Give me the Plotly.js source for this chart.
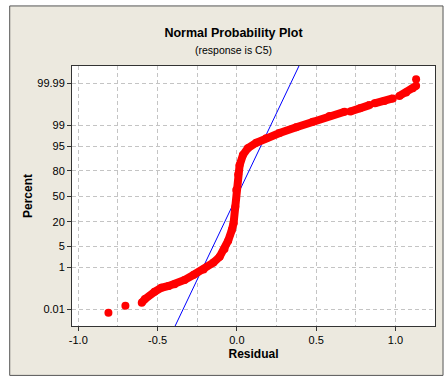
<!DOCTYPE html>
<html>
<head>
<meta charset="utf-8">
<script src="https://cdn.plot.ly/plotly-3.0.1.min.js"></script>
<style>html,body{margin:0;padding:0;background:#fff;}#chart{width:445px;height:377px;}</style>
</head>
<body>
<div id="chart"></div>
<script>
// ---- data ----
const residual = [-0.810,null,-0.703,null,-0.600,-0.580,-0.519,-0.477,-0.430,-0.393,-0.330,-0.272,-0.210,-0.148,-0.109,-0.078,-0.055,-0.032,-0.021,-0.010,-0.004,0.008,0.017,0.038,0.069,0.122,0.185,0.269,0.374,0.479,0.584,0.679,null,0.715,0.776,0.836,null,0.868,0.930,0.983,null,1.025,1.067,1.109,1.130,null,1.130];
const percent  = [0.0064,null,0.0159,null,0.0233,0.0362,0.0845,0.131,0.159,0.193,0.298,0.494,0.798,1.46,2.33,4.18,7.21,13.35,18.67,36.7,58.3,76.4,84.6,91.3,94.3,96.1,97.2,98.12,98.84,99.29,99.585,99.728,null,99.736,99.813,99.865,null,99.889,99.913,99.936,null,99.952,99.968,99.981,99.986,null,99.9941];
const fitMean = 0.0;
const fitStDev = 0.0913;
const yTickPercents = [0.01, 1, 5, 20, 50, 80, 95, 99, 99.99];
const yTickLabels = ["0.01","1","5","20","50","80","95","99","99.99"];
const xTickVals = [-1.0, -0.5, 0.0, 0.5, 1.0];
const xTickLabels = ["-1.0","-0.5","0.0","0.5","1.0"];
const xMinorGrid = [-0.75, -0.25, 0.25, 0.75];

// inverse standard normal CDF (Acklam) — normal probability scale
function norminv(p){
  const a=[-3.969683028665376e+01,2.209460984245205e+02,-2.759285104469687e+02,1.383577518672690e+02,-3.066479806614716e+01,2.506628277459239e+00];
  const b=[-5.447609879822406e+01,1.615858368580409e+02,-1.556989798598866e+02,6.680131188771972e+01,-1.328068155288572e+01];
  const c=[-7.784894002430293e-03,-3.223964580411365e-01,-2.400758277161838e+00,-2.549732539343734e+00,4.374664141464968e+00,2.938163982698783e+00];
  const d=[7.784695709041462e-03,3.224671290700398e-01,2.445134137142996e+00,3.754408661907416e+00];
  const pl=0.02425, ph=1-pl;
  let q,r;
  if(p<pl){q=Math.sqrt(-2*Math.log(p));return (((((c[0]*q+c[1])*q+c[2])*q+c[3])*q+c[4])*q+c[5])/((((d[0]*q+d[1])*q+d[2])*q+d[3])*q+1);}
  if(p<=ph){q=p-0.5;r=q*q;return (((((a[0]*r+a[1])*r+a[2])*r+a[3])*r+a[4])*r+a[5])*q/(((((b[0]*r+b[1])*r+b[2])*r+b[3])*r+b[4])*r+1);}
  q=Math.sqrt(-2*Math.log(1-p));return -(((((c[0]*q+c[1])*q+c[2])*q+c[3])*q+c[4])*q+c[5])/((((d[0]*q+d[1])*q+d[2])*q+d[3])*q+1);
}
const toZ = v => (v===null ? null : norminv(v/100));

const zPts = percent.map(toZ);
const zTicks = yTickPercents.map(toZ);
const fitZ = [-4.6, 4.6];
const fitX = fitZ.map(z => fitMean + fitStDev*z);

const frameL = -0.1716, frameR = 1.0221, frameB = -0.190, frameT = 1.231;
const fontN = "'Liberation Sans', Arial, sans-serif";

const traces = [
  {x: fitX, y: fitZ, mode: 'lines', line: {color: '#0000ff', width: 1}, hoverinfo: 'skip'},
  {x: residual, y: zPts, mode: 'lines+markers', connectgaps: false,
   line: {color: '#ff0000', width: 8}, marker: {color: '#ff0000', size: 8}}
];

const grid = {color: '#c4c4c4', dash: '4px,3px'};
const layout = {
  width: 445, height: 377,
  margin: {l: 72, r: 10, t: 66, b: 51, pad: 0},
  paper_bgcolor: '#ECE9DF', plot_bgcolor: '#ffffff',
  showlegend: false,
  font: {family: fontN, size: 11, color: '#000'},
  title: {text: '<b>Normal Probability Plot</b>', font: {family: fontN, size: 12.5, color: '#000'},
          x: 233.5/445, xanchor: 'center', xref: 'container', y: 1 - 33/377, yanchor: 'middle', yref: 'container'},
  annotations: [
    {text: '(response is C5)', xref: 'paper', yref: 'paper', x: 0.444, y: (326 - 50)/260,
     xanchor: 'center', yanchor: 'middle', showarrow: false, font: {family: fontN, size: 10.5, color: '#000'}}
  ],
  xaxis: {
    range: [-1.0397, 1.2491], tickmode: 'array', tickvals: xTickVals, ticktext: xTickLabels,
    ticks: 'outside', ticklen: 4, tickcolor: '#333', showline: true, linecolor: '#333', linewidth: 1, mirror: true,
    showgrid: true, gridcolor: grid.color, griddash: grid.dash, gridwidth: 1, zeroline: false,
    minor: {tickmode: 'array', tickvals: xMinorGrid, showgrid: true, gridcolor: grid.color, griddash: grid.dash, ticks: ''},
    tickfont: {family: fontN, size: 11, color: '#000'},
    title: {text: '<b>Residual</b>', font: {family: fontN, size: 12, color: '#000'}, standoff: 4}
  },
  yaxis: {
    range: [-4.266, 4.286], tickmode: 'array', tickvals: zTicks, ticktext: yTickLabels,
    ticks: 'outside', ticklen: 4, tickcolor: '#333', showline: true, linecolor: '#333', linewidth: 1, mirror: true,
    showgrid: true, gridcolor: grid.color, griddash: grid.dash, gridwidth: 1, zeroline: false,
    tickfont: {family: fontN, size: 11, color: '#000'},
    title: {text: '<b>Percent</b>', font: {family: fontN, size: 12, color: '#000'}, standoff: 2}
  },
  shapes: [
    {type: 'rect', xref: 'paper', yref: 'paper', x0: -0.3, x1: frameL, y0: -0.4, y1: 1.4, fillcolor: '#fff', line: {width: 0}, layer: 'above'},
    {type: 'rect', xref: 'paper', yref: 'paper', x0: -0.3, x1: 1.1, y0: frameT, y1: 1.4, fillcolor: '#fff', line: {width: 0}, layer: 'above'},
    {type: 'rect', xref: 'paper', yref: 'paper', x0: frameR, x1: 1.1, y0: -0.4, y1: 1.4, fillcolor: '#fff', line: {width: 0}, layer: 'above'},
    {type: 'rect', xref: 'paper', yref: 'paper', x0: -0.3, x1: 1.1, y0: -0.4, y1: frameB, fillcolor: '#fff', line: {width: 0}, layer: 'above'},
    {type: 'rect', xref: 'paper', yref: 'paper', x0: frameL, x1: frameR, y0: frameB, y1: frameT, line: {color: '#555', width: 1}, fillcolor: 'rgba(0,0,0,0)', layer: 'above'}
  ]
};

Plotly.newPlot('chart', traces, layout, {displayModeBar: false, staticPlot: true});
</script>
</body>
</html>
